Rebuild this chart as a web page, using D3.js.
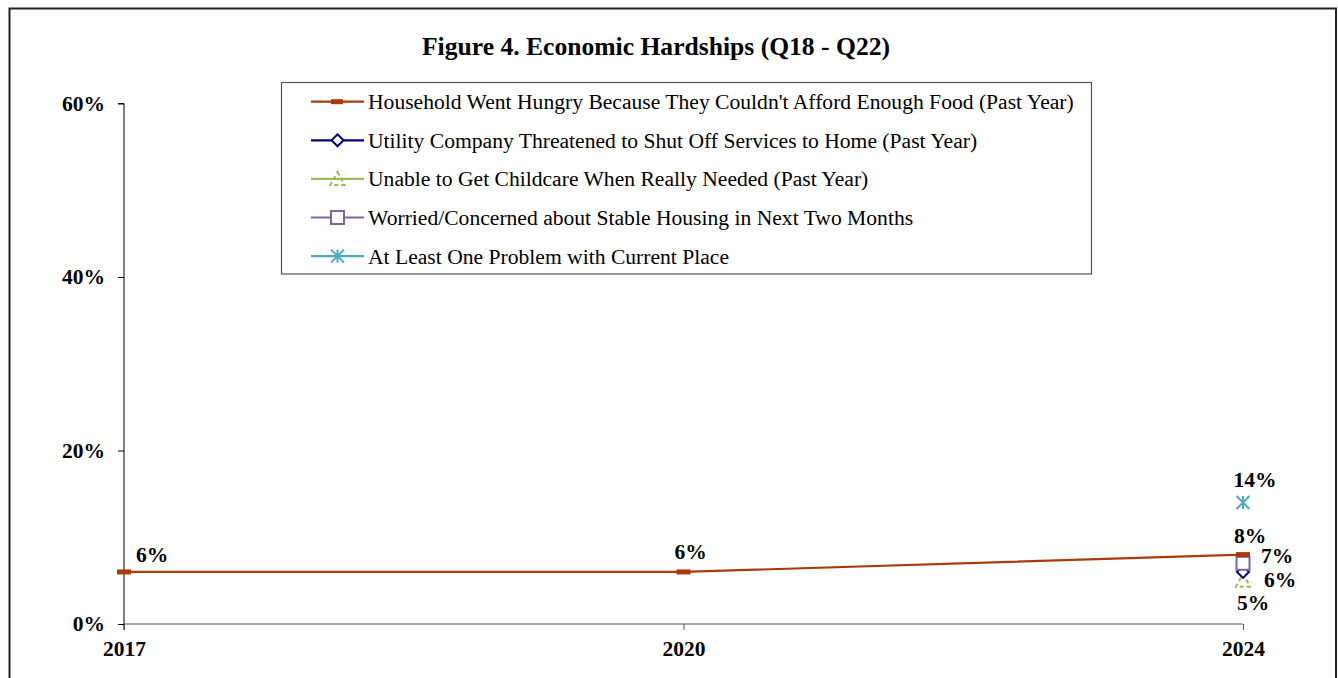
<!DOCTYPE html>
<html>
<head>
<meta charset="utf-8">
<script src="https://cdn.jsdelivr.net/npm/d3@7"></script>
<style>
  html, body { margin: 0; padding: 0; background: #fff; }
  svg { display: block; }
  text { font-family: "Liberation Serif", "Times New Roman", serif; }
</style>
</head>
<body>
<svg id="chart" width="1338" height="678"></svg>
<script>
// Survey years and hardship series (share of respondents)
const years = ["2017", "2020", "2024"];
const hungry    = [0.06, 0.06, 0.08];
const utility   = [null, null, 0.06];
const childcare = [null, null, 0.05];
const housing   = [null, null, 0.07];
const problem   = [null, null, 0.14];
const yTicks = [0, 0.2, 0.4, 0.6];

const seriesNames = [
  "Household Went Hungry Because They Couldn't Afford Enough Food (Past Year)",
  "Utility Company Threatened to Shut Off Services to Home (Past Year)",
  "Unable to Get Childcare When Really Needed (Past Year)",
  "Worried/Concerned about Stable Housing in Next Two Months",
  "At Least One Problem with Current Place"
];

const series = [
  { name: seriesNames[0], values: hungry,    color: "#AA3A0C", marker: "dash",     label: [{dx: 12, dy: -10, anchor: "start"}, {dx: 7, dy: -13, anchor: "middle"}, {dx: 7, dy: -12, anchor: "middle"}] },
  { name: seriesNames[1], values: utility,   color: "#000080", marker: "diamond",  label: [null, null, {dx: 21, dy: 15, anchor: "start"}] },
  { name: seriesNames[2], values: childcare, color: "#9BBB59", marker: "triangle", label: [null, null, {dx: -6, dy: 29, anchor: "start"}] },
  { name: seriesNames[3], values: housing,   color: "#8064A2", marker: "square",   label: [null, null, {dx: 18, dy: 0, anchor: "start"}] },
  { name: seriesNames[4], values: problem,   color: "#4BACC6", marker: "star",     label: [null, null, {dx: 12, dy: -16, anchor: "middle"}] }
];

const LABEL_SIZE = 21.5;
const svg = d3.select("#chart");

// outer frame
svg.append("rect")
  .attr("x", 9.5).attr("y", 8.5).attr("width", 1326.5).attr("height", 700)
  .attr("fill", "none").attr("stroke", "#222").attr("stroke-width", 2);

const x = d3.scalePoint().domain(years).range([124, 1243]);
const y = d3.scaleLinear().domain([0, 0.6]).range([624, 103.5]);
const fmt = d3.format(".0%");

// title
svg.append("text")
  .attr("x", 656).attr("y", 55)
  .attr("text-anchor", "middle")
  .attr("font-size", 25.6).attr("font-weight", "bold")
  .text("Figure 4. Economic Hardships (Q18 - Q22)");

// y axis
const yAxis = d3.axisLeft(y).tickValues(yTicks).tickFormat(fmt).tickSize(6).tickPadding(13);
const gy = svg.append("g").attr("transform", "translate(124,0)").call(yAxis);
gy.select(".domain").attr("stroke", "#000").attr("d", "M-6,103.5H0V630");
gy.selectAll(".tick line").attr("stroke", "#000");
gy.selectAll(".tick text")
  .attr("font-family", "Liberation Serif, serif")
  .attr("font-size", LABEL_SIZE).attr("font-weight", "bold").attr("fill", "#000")
  .attr("dy", "0.32em");

// x axis
const xAxis = d3.axisBottom(x).tickSize(6).tickPadding(11);
const gx = svg.append("g").attr("transform", "translate(0,624)").call(xAxis);
gx.select(".domain").attr("stroke", "#555").attr("d", "M124,0H1243");
gx.selectAll(".tick line").attr("stroke", "#555");
gx.selectAll(".tick text")
  .attr("font-family", "Liberation Serif, serif")
  .attr("font-size", LABEL_SIZE).attr("font-weight", "bold").attr("fill", "#000");

// marker drawing helper
function drawMarker(g, type, color, cx, cy) {
  if (type === "dash") {
    g.append("rect").attr("x", cx - 7).attr("y", cy - 2.5).attr("width", 14).attr("height", 5)
      .attr("fill", color);
  } else if (type === "diamond") {
    g.append("path").attr("d", `M${cx},${cy - 6}L${cx + 6},${cy}L${cx},${cy + 6}L${cx - 6},${cy}Z`)
      .attr("fill", "#fff").attr("stroke", color).attr("stroke-width", 2);
  } else if (type === "triangle") {
    g.append("path").attr("d", `M${cx},${cy - 7}L${cx + 7},${cy + 6}L${cx - 7},${cy + 6}Z`)
      .attr("fill", "none").attr("stroke", color).attr("stroke-width", 2).attr("stroke-dasharray", "4,3");
  } else if (type === "square") {
    g.append("rect").attr("x", cx - 6.5).attr("y", cy - 6.5).attr("width", 13).attr("height", 13)
      .attr("fill", "#fff").attr("stroke", color).attr("stroke-width", 2);
  } else if (type === "star") {
    const r = 6.5;
    g.append("path")
      .attr("d", `M${cx - r},${cy - r}L${cx + r},${cy + r}M${cx + r},${cy - r}L${cx - r},${cy + r}M${cx},${cy - r}V${cy + r}`)
      .attr("stroke", color).attr("stroke-width", 2).attr("fill", "none");
  }
}

// series lines, markers and value labels (draw back to front)
const line = d3.line().defined(d => d.v != null).x(d => x(d.year)).y(d => y(d.v));
const plot = svg.append("g");
const order = [2, 1, 3, 0, 4];
order.forEach(i => {
  const s = series[i];
  const pts = years.map((yr, j) => ({ year: yr, v: s.values[j] }));
  plot.append("path").datum(pts).attr("d", line)
    .attr("fill", "none").attr("stroke", s.color).attr("stroke-width", 2.2);
});
order.forEach(i => {
  const s = series[i];
  years.forEach((yr, j) => {
    const v = s.values[j];
    if (v == null) return;
    drawMarker(plot, s.marker, s.color, x(yr), y(v));
  });
});
series.forEach(s => {
  years.forEach((yr, j) => {
    const v = s.values[j];
    const lb = s.label[j];
    if (v == null || !lb) return;
    plot.append("text")
      .attr("x", x(yr) + lb.dx).attr("y", y(v) + lb.dy)
      .attr("text-anchor", lb.anchor)
      .attr("font-size", LABEL_SIZE).attr("font-weight", "bold").attr("fill", "#000")
      .text(fmt(v));
  });
});

// legend
const lg = svg.append("g");
lg.append("rect").attr("x", 281.5).attr("y", 82.5).attr("width", 810).attr("height", 191.5)
  .attr("fill", "#fff").attr("stroke", "#555").attr("stroke-width", 1.2);
series.forEach((s, i) => {
  const cy = 101.7 + i * 38.6;
  lg.append("line").attr("x1", 311).attr("x2", 364).attr("y1", cy).attr("y2", cy)
    .attr("stroke", s.color).attr("stroke-width", 2.2);
  const mg = lg.append("g");
  if (s.marker === "dash") {
    mg.append("rect").attr("x", 331).attr("y", cy - 2.5).attr("width", 12).attr("height", 5).attr("fill", s.color);
  } else {
    drawMarker(mg, s.marker, s.color, 337.5, cy);
  }
  lg.append("text").attr("x", 368).attr("y", cy).attr("dy", "0.35em")
    .attr("font-size", 21.6).attr("fill", "#000").text(s.name);
});
</script>
</body>
</html>
